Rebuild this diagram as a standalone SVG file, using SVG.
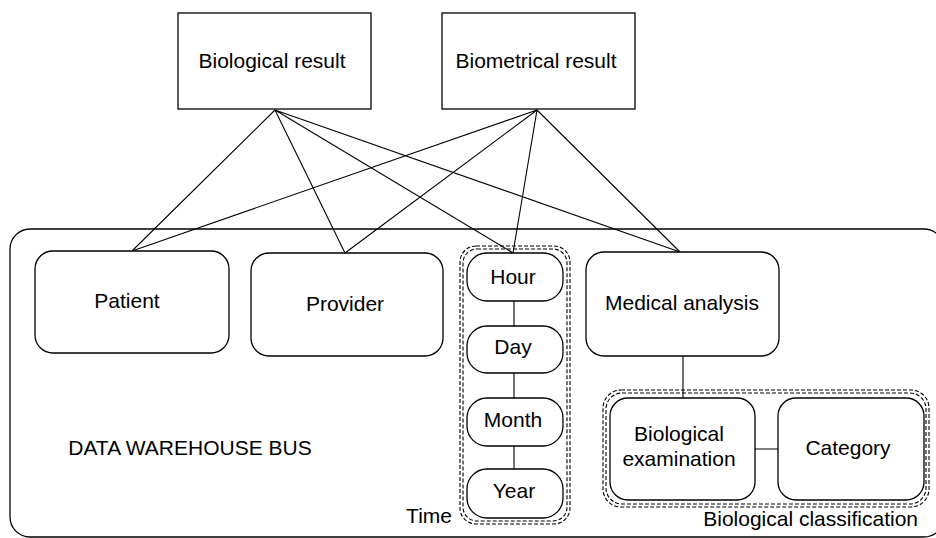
<svg xmlns="http://www.w3.org/2000/svg" width="936" height="538" viewBox="0 0 936 538">
<style>
text{font-family:"Liberation Sans",Arial,sans-serif;font-size:21px;fill:#000;text-anchor:middle}
.box{fill:#fff;stroke:#000;stroke-width:1.3}
.bus{fill:none;stroke:#000;stroke-width:1.3}
.grp{fill:none;stroke:#000;stroke-width:1.1;stroke-dasharray:4 2}
.ln{stroke:#000;stroke-width:1.1;fill:none}
</style>
<rect x="0" y="0" width="936" height="538" fill="#fff"/>
<g id="bus">
<rect class="bus" x="10" y="229" width="934" height="308" rx="20"/>
<text x="190" y="455">DATA WAREHOUSE BUS</text>
</g>
<g id="time-group">
<rect class="grp" x="460" y="246" width="110" height="278" rx="16"/>
<rect class="grp" x="463" y="249" width="104" height="272" rx="14"/>
<text x="452" y="523" style="text-anchor:end">Time</text>
</g>
<g id="bioclass-group">
<rect class="grp" x="603" y="390" width="326" height="117" rx="18"/>
<rect class="grp" x="606" y="393" width="320" height="111" rx="16"/>
<text x="918" y="526" style="text-anchor:end">Biological classification</text>
</g>
<g id="connectors">
<path class="ln" d="M275 110 L132 251 M275 110 L345 253 M275 110 L513 253 M275 110 L680 252"/>
<path class="ln" d="M537 110 L132 251 M537 110 L345 253 M537 110 L513 253 M537 110 L680 252"/>
<path class="ln" d="M514 301 V326 M514 373 V398 M514 446 V469"/>
<path class="ln" d="M683 356 V398 M755 449 H778"/>
</g>
<g id="biological-result">
<rect class="box" x="178" y="13" width="193" height="96"/>
<text x="272" y="68">Biological result</text>
</g>
<g id="biometrical-result">
<rect class="box" x="442" y="13" width="193" height="96"/>
<text x="536" y="68">Biometrical result</text>
</g>
<g id="patient">
<rect class="box" x="35" y="251" width="194" height="102" rx="18"/>
<text x="127" y="308">Patient</text>
</g>
<g id="provider">
<rect class="box" x="251" y="253" width="192" height="103" rx="18"/>
<text x="345" y="311">Provider</text>
</g>
<g id="hour">
<rect class="box" x="467" y="253" width="96" height="48" rx="20"/>
<text x="513" y="284">Hour</text>
</g>
<g id="day">
<rect class="box" x="467" y="326" width="96" height="47" rx="20"/>
<text x="513" y="354">Day</text>
</g>
<g id="month">
<rect class="box" x="467" y="398" width="96" height="48" rx="20"/>
<text x="513" y="427">Month</text>
</g>
<g id="year">
<rect class="box" x="467" y="469" width="96" height="49" rx="20"/>
<text x="514" y="498">Year</text>
</g>
<g id="medical-analysis">
<rect class="box" x="586" y="252" width="193" height="104" rx="18"/>
<text x="682" y="310">Medical analysis</text>
</g>
<g id="biological-examination">
<rect class="box" x="610" y="398" width="145" height="102" rx="18"/>
<text x="679" y="441">Biological</text>
<text x="679" y="466">examination</text>
</g>
<g id="category">
<rect class="box" x="778" y="398" width="146" height="102" rx="18"/>
<text x="848" y="455">Category</text>
</g>
</svg>
